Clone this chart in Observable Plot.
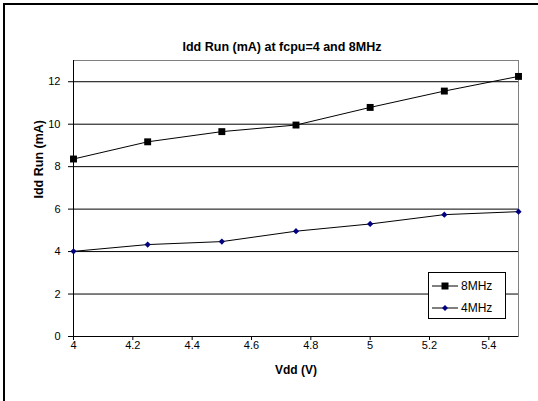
<!DOCTYPE html>
<html>
<head>
<meta charset="utf-8">
<script src="https://cdn.jsdelivr.net/npm/d3@7"></script>
<script src="https://cdn.jsdelivr.net/npm/@observablehq/plot@0.6"></script>
<style>
  html, body { margin: 0; padding: 0; background: #fff; overflow: hidden; }
  #wrap { position: relative; width: 538px; height: 401px; font-family: Arial, "Liberation Sans", sans-serif; }
  #frame { position: absolute; left: 3px; top: 3px; width: 600px; height: 500px; border: 2px solid #000; box-sizing: border-box; }
  #chart { position: absolute; left: 0; top: 0; }
  #legend { position: absolute; left: 428px; top: 272px; width: 78px; height: 47px; box-sizing: border-box; border: 1px solid #000; background: #fff; font-size: 12px; }
  .row { position: absolute; left: 3px; height: 16px; display: flex; align-items: center; }
  .row span { margin-left: 3px; }
</style>
</head>
<body>
<div id="wrap">
  <div id="frame"></div>
  <div id="chart"></div>
  <div id="legend"></div>
</div>
<script>
const title = "Idd Run (mA) at fcpu=4 and 8MHz";
const xLabel = "Vdd (V)";
const yLabel = "Idd Run (mA)";
const vdd = [4, 4.25, 4.5, 4.75, 5, 5.25, 5.5];
const seriesNames = ["8MHz", "4MHz"];
const idd8MHz = [8.36, 9.17, 9.65, 9.96, 10.79, 11.56, 12.25];
const idd4MHz = [4.01, 4.33, 4.47, 4.96, 5.30, 5.74, 5.88];
const xTicks = [4, 4.2, 4.4, 4.6, 4.8, 5, 5.2, 5.4];
const yTicks = [0, 2, 4, 6, 8, 10, 12];
const gridY = [2, 4, 6, 8, 10, 12];

const rows = [];
vdd.forEach((v, i) => rows.push({x: v, y: idd8MHz[i], s: seriesNames[0]}));
vdd.forEach((v, i) => rows.push({x: v, y: idd4MHz[i], s: seriesNames[1]}));
const d8 = rows.filter(d => d.s === seriesNames[0]);
const d4 = rows.filter(d => d.s === seriesNames[1]);

const chart = Plot.plot({
  width: 538,
  height: 401,
  marginLeft: 73,
  marginRight: 20,
  marginTop: 60,
  marginBottom: 65,
  style: {fontFamily: "Arial, 'Liberation Sans', sans-serif", fontSize: "11px", color: "#000", background: "transparent"},
  x: {domain: [4, 5.5], ticks: xTicks, tickSize: 4, tickPadding: 1, label: null, tickFormat: d => String(d)},
  y: {domain: [0, 13], ticks: yTicks, tickSize: 5, tickPadding: 8, label: null},
  marks: [
    Plot.frame({stroke: "#808080", strokeWidth: 1}),
    Plot.ruleY(gridY, {stroke: "#000", strokeWidth: 1}),
    Plot.ruleX([4], {stroke: "#000", strokeWidth: 1}),
    Plot.ruleY([0], {stroke: "#000", strokeWidth: 1}),
    Plot.line(d8, {x: "x", y: "y", stroke: "#000", strokeWidth: 1}),
    Plot.line(d4, {x: "x", y: "y", stroke: "#000", strokeWidth: 1}),
    Plot.dot(d8, {x: "x", y: "y", symbol: "square", r: 3.9, fill: "#000", stroke: "none"}),
    Plot.dot(d4, {x: "x", y: "y", symbol: "diamond2", r: 2.8, fill: "#000080", stroke: "none"}),
    Plot.text([title], {frameAnchor: "top", dx: -14, dy: -14, lineAnchor: "middle", fontWeight: "bold", fontSize: 12.5, fill: "#000"}),
    Plot.text([xLabel], {frameAnchor: "bottom", dy: 34, lineAnchor: "middle", fontWeight: "bold", fontSize: 12, fill: "#000"}),
    Plot.text([yLabel], {frameAnchor: "left", dx: -35, rotate: -90, lineAnchor: "middle", fontWeight: "bold", fontSize: 12.5, fill: "#000"})
  ]
});
document.getElementById("chart").appendChild(chart);

// legend
const legend = d3.select("#legend");
const legendSymbols = [
  {name: seriesNames[0], shape: "square", color: "#000"},
  {name: seriesNames[1], shape: "diamond", color: "#000080"}
];
legendSymbols.forEach((e, i) => {
  const row = legend.append("div").attr("class", "row").style("top", (5 + i * 22) + "px");
  const svg = row.append("svg").attr("width", 26).attr("height", 16);
  svg.append("line").attr("x1", 0).attr("x2", 26).attr("y1", 8).attr("y2", 8).attr("stroke", "#000");
  if (e.shape === "square") {
    svg.append("rect").attr("x", 9.5).attr("y", 4.5).attr("width", 7).attr("height", 7).attr("fill", e.color);
  } else {
    svg.append("path").attr("d", "M13,5 L16,8 L13,11 L10,8 Z").attr("fill", e.color);
  }
  row.append("span").text(e.name);
});
</script>
</body>
</html>
